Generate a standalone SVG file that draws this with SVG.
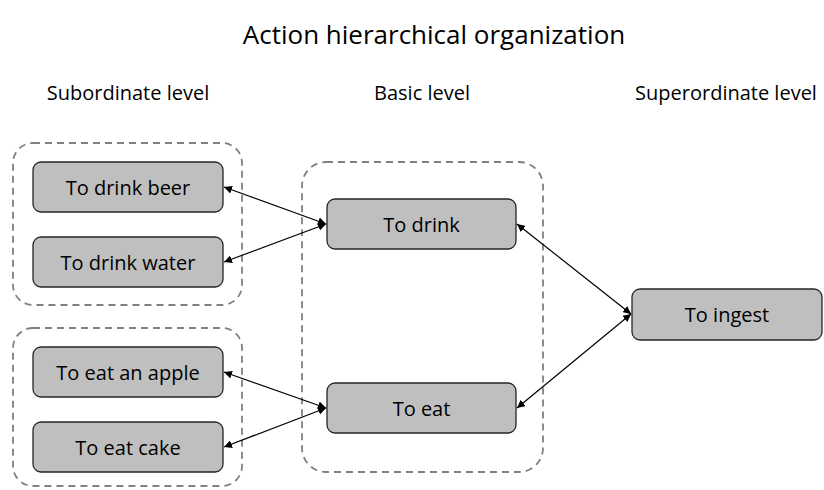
<svg xmlns="http://www.w3.org/2000/svg" width="824" height="490" viewBox="0 0 824 490">
<style>
.t{font-family:"Open Sans","Liberation Sans",sans-serif;fill:#000;text-anchor:middle}
.title{font-size:26px}
.lvl{font-size:20px}
.node rect{fill:#bfbfbf;stroke:#262626;stroke-width:1.3}
.node text{font-family:"Open Sans","Liberation Sans",sans-serif;font-size:20px;text-anchor:middle;dominant-baseline:central;fill:#000}
.grp{fill:none;stroke:#808080;stroke-width:1.8;stroke-dasharray:7 5}
#connectors line{stroke:#000;stroke-width:1.2;marker-start:url(#ah);marker-end:url(#ah)}
</style>
<defs>
<marker id="ah" viewBox="0 0 10 10" refX="10" refY="5" markerWidth="8" markerHeight="8" markerUnits="userSpaceOnUse" orient="auto-start-reverse">
<path d="M0,0 L10,5 L0,10 z" fill="#000"/>
</marker>
</defs>
<text class="t title" x="434" y="44">Action hierarchical organization</text>
<text class="t lvl" x="128" y="100">Subordinate level</text>
<text class="t lvl" x="422" y="100">Basic level</text>
<text class="t lvl" x="726" y="100">Superordinate level</text>
<g id="groups">
<rect class="grp" x="13" y="143" width="229" height="162" rx="20"/>
<rect class="grp" x="13" y="328" width="229" height="158" rx="20"/>
<rect class="grp" x="302" y="162" width="241" height="310" rx="24"/>
</g>
<g id="n-beer" class="node"><rect x="33" y="162" width="190" height="50" rx="8"/><text x="128" y="187">To drink beer</text></g>
<g id="n-water" class="node"><rect x="33" y="237" width="190" height="50" rx="8"/><text x="128" y="262">To drink water</text></g>
<g id="n-apple" class="node"><rect x="33" y="347" width="190" height="50" rx="8"/><text x="128" y="372">To eat an apple</text></g>
<g id="n-cake" class="node"><rect x="33" y="422" width="190" height="50" rx="8"/><text x="128" y="447">To eat cake</text></g>
<g id="n-drink" class="node"><rect x="327" y="199" width="189" height="50" rx="8"/><text x="421.5" y="224">To drink</text></g>
<g id="n-eat" class="node"><rect x="327" y="383" width="189" height="50" rx="8"/><text x="421.5" y="408">To eat</text></g>
<g id="n-ingest" class="node"><rect x="632" y="289" width="190" height="51" rx="8"/><text x="727" y="314.5">To ingest</text></g>
<g id="connectors">
<line x1="224" y1="187" x2="326" y2="224"/>
<line x1="224" y1="262" x2="326" y2="224"/>
<line x1="224" y1="372" x2="326" y2="408"/>
<line x1="224" y1="447" x2="326" y2="408"/>
<line x1="517" y1="224" x2="631" y2="314"/>
<line x1="517" y1="408" x2="631" y2="314"/>
</g>
</svg>
